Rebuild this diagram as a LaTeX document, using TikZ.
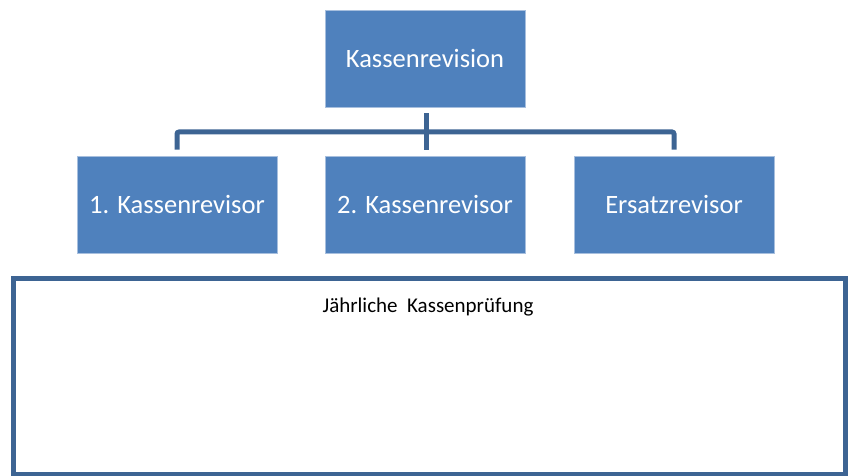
\documentclass[tikz,border=0pt]{standalone}
\usepackage{fontspec}
\setmainfont{Carlito}
\definecolor{boxblue}{HTML}{4F81BD}
\definecolor{boxedge}{HTML}{A7BFDE}
\definecolor{linkblue}{HTML}{3D6493}
\begin{document}
\begin{tikzpicture}[x=1pt,y=-1pt,
  orgbox/.style={fill=boxblue,draw=boxedge,line width=0.8pt,text=white,minimum width=200pt,minimum height=97pt,inner sep=0pt,font=\fontsize{26.5}{30}\selectfont},
  link/.style={draw=linkblue,line width=5pt}]
\useasboundingbox (0,0) rectangle (865,476);
\node[orgbox] (top) at (425,58.5) {Kassenrevision};
\node[orgbox] (r1) at (177,204.5) {1. Kassenrevisor};
\node[orgbox] (r2) at (425,204.5) {2. Kassenrevisor};
\node[orgbox] (r3) at (674,204.5) {Ersatzrevisor};
\coordinate (hub) at (426,132);
\draw[link] ([yshift=-6pt]top.south -| hub) -- ([yshift=6pt]r2.north -| hub);
\draw[link,rounded corners=2pt] ([yshift=6pt]r1.north) -- (r1.north |- hub) -- (r3.north |- hub) -- ([yshift=6pt]r3.north);
\node[draw=linkblue,line width=5pt,minimum width=832pt,minimum height=196pt,inner sep=0pt] (frame) at (429,376) {};
\node[anchor=base,font=\fontsize{21}{25}\selectfont] (label) at (428,312) {Jährliche\ \ Kassenprüfung};
\end{tikzpicture}
\end{document}
